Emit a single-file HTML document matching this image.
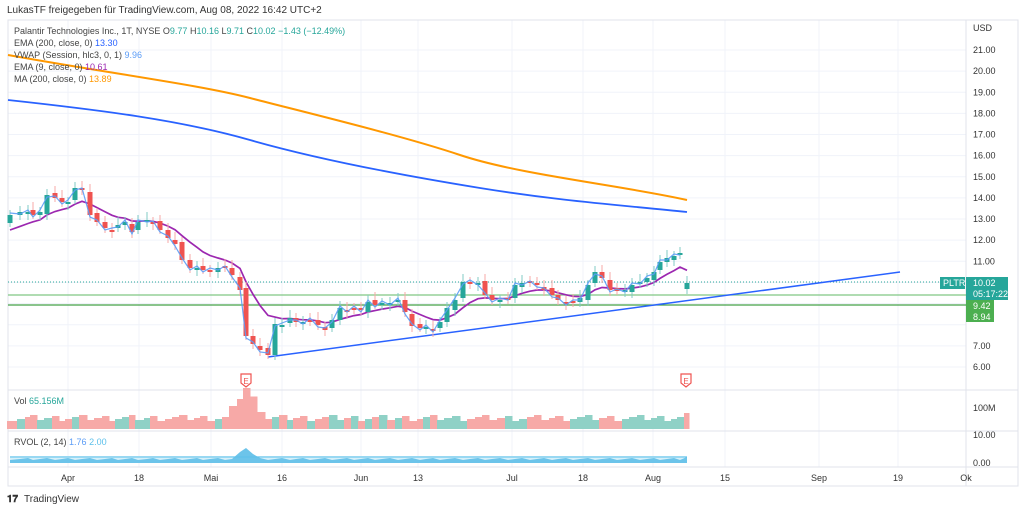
<!DOCTYPE html>
<html><head><meta charset="utf-8"><style>
body{margin:0;background:#fff;width:1024px;height:511px;overflow:hidden;font-family:"Liberation Sans",sans-serif}
svg text{font-family:"Liberation Sans",sans-serif}
</style></head><body>
<svg id="s" width="1024" height="511" xmlns="http://www.w3.org/2000/svg">
<rect width="1024" height="511" fill="#fff"/>
<text x="7" y="13" font-size="10" fill="#333">LukasTF freigegeben für TradingView.com, Aug 08, 2022 16:42 UTC+2</text>
<g id="grid" stroke="#f0f3fa" stroke-width="1"></g>
<rect x="8" y="20" width="1010" height="466" fill="none" stroke="#e0e3eb"/>
<line x1="966" y1="20" x2="966" y2="486" stroke="#e0e3eb"/>
<line x1="8" y1="390" x2="1018" y2="390" stroke="#e0e3eb"/>
<line x1="8" y1="431" x2="1018" y2="431" stroke="#e0e3eb"/>
<line x1="8" y1="467" x2="1018" y2="467" stroke="#e0e3eb"/>
<g id="plot"></g>
<g font-size="9" fill="#444">
<text x="14" y="34">Palantir Technologies Inc., 1T, NYSE  O<tspan fill="#26a69a">9.77</tspan>  H<tspan fill="#26a69a">10.16</tspan>  L<tspan fill="#26a69a">9.71</tspan>  C<tspan fill="#26a69a">10.02</tspan>  <tspan fill="#26a69a">−1.43 (−12.49%)</tspan></text>
<text x="14" y="46">EMA (200, close, 0) <tspan fill="#2962ff">13.30</tspan></text>
<text x="14" y="58">VWAP (Session, hlc3, 0, 1) <tspan fill="#5b9cf6">9.96</tspan></text>
<text x="14" y="70">EMA (9, close, 0) <tspan fill="#9c27b0">10.61</tspan></text>
<text x="14" y="82">MA (200, close, 0) <tspan fill="#ff9800">13.89</tspan></text>
<text x="14" y="404">Vol <tspan fill="#26a69a">65.156M</tspan></text>
<text x="14" y="445">RVOL (2, 14) <tspan fill="#5b9cf6">1.76</tspan> <tspan fill="#5bc0eb">2.00</tspan></text>
</g>
<g id="axis" font-size="9" fill="#333"></g>
<text x="7" y="502" font-size="10" fill="#333" font-weight="bold">𝟏𝟕</text>
<text x="24" y="502" font-size="10" fill="#333">TradingView</text>
</svg>
<script>
const NS="http://www.w3.org/2000/svg";
function el(p,t,a,tx){const e=document.createElementNS(NS,t);for(const k in a)e.setAttribute(k,a[k]);if(tx!==undefined)e.textContent=tx;document.getElementById(p).appendChild(e);return e;}
const Y=p=>50+(21-p)*21.13;
const vx=[68,139,211,282,361,418,512,583,653,725,819,898,966];
vx.forEach(x=>el('grid','line',{x1:x,y1:20,x2:x,y2:467}));
for(let p=6;p<=21;p++)el('grid','line',{x1:8,y1:Y(p),x2:966,y2:Y(p)});
el('axis','text',{x:973,y:31},'USD');
for(let p=6;p<=21;p++){if(p>=8&&p<=10)continue;el('axis','text',{x:973,y:Y(p)+3},p.toFixed(2));}
el('axis','text',{x:973,y:411},'100M');el('axis','text',{x:973,y:438},'10.00');el('axis','text',{x:973,y:466},'0.00');
[['Apr',68],['18',139],['Mai',211],['16',282],['Jun',361],['13',418],['Jul',512],['18',583],['Aug',653],['15',725],['Sep',819],['19',898],['Ok',966]].forEach(([t,x])=>el('axis','text',{x:x,y:481,'text-anchor':'middle'},t));
const pts=[[10,215],[20,212],[28,212],[33,215],[40,212],[47,195],[55,198],[62,202],[68,202],[75,188],[82,190],[90,215],[97,222],[105,228],[112,230],[118,225],[125,222],[132,232],[138,222],[147,220],[153,223],[160,230],[168,238],[175,244],[182,260],[190,268],[197,268],[203,270],[210,270],[218,268],[225,268],[232,275],[240,290],[246,336],[253,344],[260,350],[268,355],[275,324],[282,325],[290,318],[296,322],[303,322],[310,320],[318,325],[325,330],[332,320],[340,308],[347,310],[354,308],[361,310],[368,302],[375,305],[382,303],[390,303],[398,300],[405,312],[412,326],[420,328],[426,327],[433,330],[440,322],[447,308],[455,300],[463,282],[470,282],[478,283],[485,295],[492,300],[500,300],[508,298],[515,285],[522,283],[530,283],[537,285],[544,290],[552,295],[558,300],[566,303],[573,302],[580,298],[588,285],[595,272],[602,278],[610,290],[617,291],[625,290],[632,285],[640,282],[647,278],[654,272],[660,262],[667,258],[674,256],[680,253],[687,283]];
el('plot','line',{x1:8,y1:282,x2:940,y2:282,stroke:'#26a69a','stroke-dasharray':'1 2','stroke-width':1});
el('plot','line',{x1:8,y1:295,x2:966,y2:295,stroke:'#81c784','stroke-width':1.3});
el('plot','line',{x1:8,y1:305,x2:966,y2:305,stroke:'#43a047','stroke-width':1.3});
el('plot','path',{d:'M8,55 C120,75 200,85 250,98 S400,135 460,155 S620,185 687,200',fill:'none',stroke:'#ff9800','stroke-width':2});
el('plot','path',{d:'M8,100 C100,110 180,120 250,140 S400,175 480,188 S620,205 687,212',fill:'none',stroke:'#2962ff','stroke-width':1.8});
el('plot','line',{x1:268,y1:357,x2:900,y2:272,stroke:'#2962ff','stroke-width':1.5});
let e=pts[0][1]+15,ed='';const k=2/10;
pts.forEach((p,i)=>{e=i?e+k*(p[1]-e):e;ed+=(i?'L':'M')+p[0]+','+e.toFixed(1);});
el('plot','path',{d:ed,fill:'none',stroke:'#9c27b0','stroke-width':1.7});
pts.forEach((p,i)=>{let o=i?pts[i-1][1]+(i%3-1)*2:p[1]+8;if(i==pts.length-1)o=289;const c=p[1];const up=c<o;const col=up?'#26a69a':'#ef5350';
const t=Math.min(o,c),b=Math.max(o,c,t+2);
el('plot','line',{x1:p[0],y1:t-5-(i%4),x2:p[0],y2:b+4+(i%3),stroke:up?'#80cbc4':'#f7a9a7','stroke-width':1});
el('plot','rect',{x:p[0]-2.5,y:t,width:5,height:b-t,fill:col});});
let vd='';pts.forEach((p,i)=>{if(i<pts.length-1)vd+=(i?'L':'M')+p[0]+','+(p[1]+(i%2?2:-2));});
el('plot','path',{d:vd,fill:'none',stroke:'#5b9cf6','stroke-width':1.2,opacity:0.9});
el('plot','rect',{x:940,y:277,width:25,height:12,fill:'#26a69a'});el('plot','text',{x:943,y:286,'font-size':9,fill:'#fff'},'PLTR');
el('plot','rect',{x:966,y:277,width:42,height:23,fill:'#26a69a'});el('plot','text',{x:973,y:286,'font-size':9,fill:'#fff'},'10.02');el('plot','text',{x:973,y:297,'font-size':9,fill:'#fff'},'05:17:22');
el('plot','rect',{x:966,y:300,width:28,height:22,fill:'#4caf50'});el('plot','text',{x:973,y:309,'font-size':9,fill:'#fff'},'9.42');el('plot','text',{x:973,y:320,'font-size':9,fill:'#fff'},'8.94');
[246,686].forEach(x=>{el('plot','path',{d:`M${x-5},374 h10 v9 l-5,4 l-5,-4z`,fill:'#fff',stroke:'#ef5350','stroke-width':1.2});el('plot','text',{x:x,y:384,'font-size':8,fill:'#ef5350','text-anchor':'middle'},'E');});
pts.forEach((p,i)=>{let h=8+((i*37)%7);const d=Math.abs(p[0]-246);if(d<20)h+=Math.max(0,30-d*1.5);if(i==pts.length-1)h=16;
const up=i&&p[1]<pts[i-1][1];const w=i<pts.length-1?pts[i+1][0]-p[0]:5;
el('plot','rect',{x:p[0]-3,y:429-h,width:w+0.5,height:h,fill:up?'#8fd1c6':'#f7a9a7'});});
let rd='M10,463';pts.forEach((p,i)=>{let h=3+((i*13)%3);const d=Math.abs(p[0]-246);if(d<12)h+=12-d;if(i==pts.length-1)h=6;rd+=`L${p[0]},${463-h}`;});rd+='L687,463Z';
el('plot','rect',{x:10,y:456,width:677,height:7,fill:'#d6f0fa'});
el('plot','path',{d:rd,fill:'#6cc4ea'});
el('plot','line',{x1:10,y1:457,x2:687,y2:457,stroke:'#5bc0eb','stroke-width':1});
</script>
</body></html>
